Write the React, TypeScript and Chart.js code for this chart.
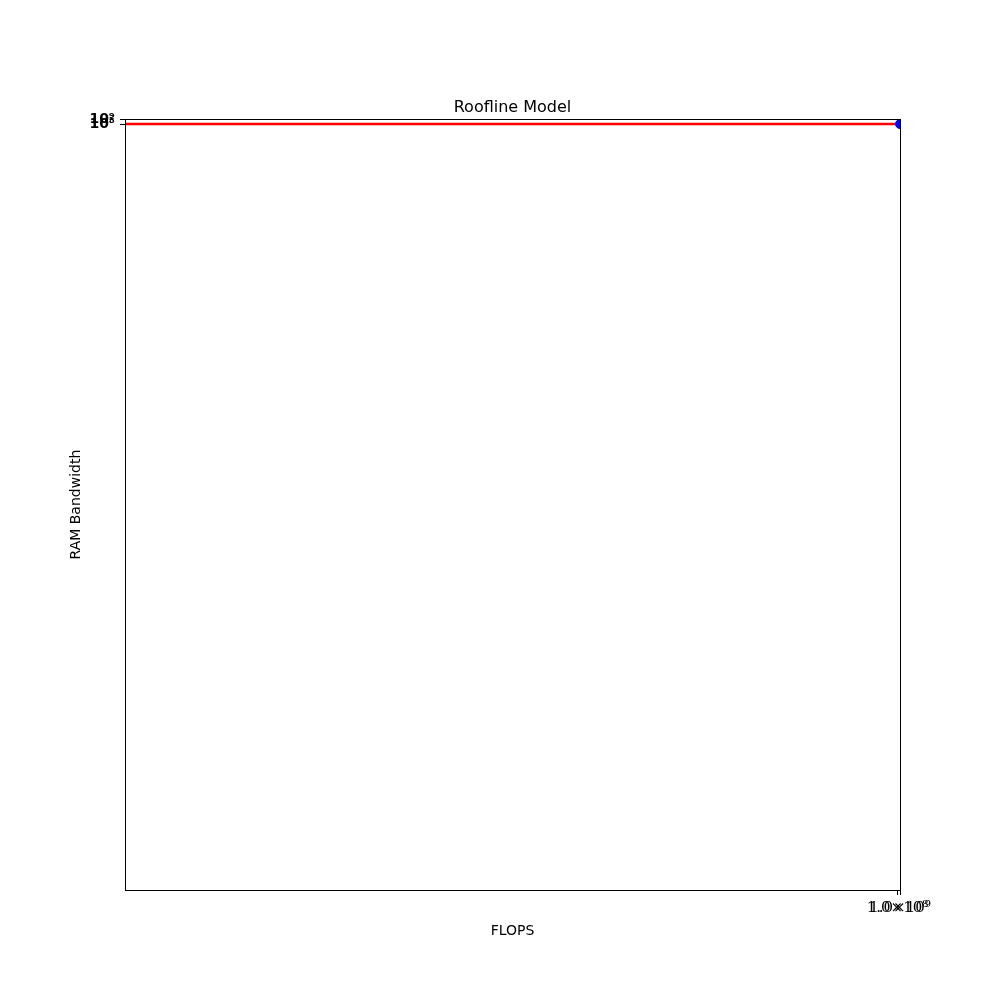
import React, { useEffect, useRef } from "react";
import { Chart, registerables } from "chart.js";

Chart.register(...registerables);

// ---- data ----
const ROOF_FLOPS = [1e-300, 1e9];
const ROOF_BANDWIDTH = [1e8, 1e8];
const POINT_FLOPS = [1e9];
const POINT_BANDWIDTH = [1e8];
const X_TICKS = [1e8, 1e9];
const X_TICK_LABELS = ["1.0×10⁸", "1.0×10⁹"];
const Y_TICKS = [1e8, 1e9];
const Y_TICK_LABELS = ["10⁸", "10⁹"];
const X_LIMITS = [1e-300, 1e9];
const Y_LIMITS = [1e-150, 1e9];

const FONT = "'DejaVu Sans', sans-serif";
const SERIF = "'DejaVu Serif', serif";

const framePlugin = {
  id: "frame",
  afterDatasetsDraw(chart: any) {
    const { ctx, chartArea } = chart;
    ctx.save();
    ctx.strokeStyle = "#000";
    ctx.lineWidth = 1;
    ctx.strokeRect(
      Math.round(chartArea.left) + 0.5,
      Math.round(chartArea.top) + 0.5,
      Math.round(chartArea.right - chartArea.left),
      Math.round(chartArea.bottom - chartArea.top)
    );
    ctx.restore();
  },
};

export default function App() {
  const ref = useRef<HTMLCanvasElement | null>(null);

  useEffect(() => {
    if (!ref.current) return;
    const chart = new Chart(ref.current, {
      type: "scatter",
      data: {
        datasets: [
          {
            type: "scatter",
            label: "point",
            data: POINT_FLOPS.map((x, i) => ({ x, y: POINT_BANDWIDTH[i] })),
            backgroundColor: "#0000ff",
            borderColor: "#0000ff",
            pointRadius: 4.5,
            pointHoverRadius: 4.5,
            order: 0,
            clip: 0,
          } as any,
          {
            type: "line",
            label: "roof",
            data: ROOF_FLOPS.map((x, i) => ({ x, y: ROOF_BANDWIDTH[i] })),
            borderColor: "#ff0000",
            backgroundColor: "#ff0000",
            borderWidth: 2.6,
            pointRadius: 0,
            showLine: true,
            fill: false,
            order: 1,
            clip: 0,
          } as any,
        ],
      },
      options: {
        animation: false,
        responsive: false,
        events: [],
        layout: { padding: { left: 0, right: 100, top: 0, bottom: 0 } },
        plugins: {
          legend: { display: false },
          tooltip: { enabled: false },
          title: {
            display: true,
            text: "Roofline Model",
            color: "#000",
            fullSize: false,
            font: { family: FONT, size: 16, weight: "normal" },
            padding: { top: 98, bottom: 2 },
          },
        },
        scales: {
          x: {
            type: "logarithmic",
            min: X_LIMITS[0],
            max: X_LIMITS[1],
            border: { display: false },
            grid: {
              display: true,
              drawOnChartArea: false,
              drawTicks: true,
              tickLength: 5,
              color: "#000",
              tickColor: "#000",
            },
            ticks: {
              autoSkip: false,
              maxRotation: 0,
              minRotation: 0,
              padding: 4,
              color: "#000",
              font: { family: SERIF, size: 15 },
              callback: (v: any) => {
                const i = X_TICKS.findIndex((t) => Math.abs(t - v) / t < 1e-6);
                return i >= 0 ? X_TICK_LABELS[i] : "";
              },
            },
            title: {
              display: true,
              text: "FLOPS",
              color: "#000",
              font: { family: FONT, size: 14 },
              padding: { top: 0, bottom: 60 },
            },
            afterBuildTicks: (scale: any) => {
              scale.ticks = X_TICKS.map((value) => ({ value }));
            },
            afterFit: (scale: any) => {
              scale.height = 110;
            },
          },
          y: {
            type: "logarithmic",
            min: Y_LIMITS[0],
            max: Y_LIMITS[1],
            border: { display: false },
            grid: {
              display: true,
              drawOnChartArea: false,
              drawTicks: true,
              tickLength: 5,
              color: "#000",
              tickColor: "#000",
            },
            ticks: {
              autoSkip: false,
              padding: 5,
              color: "#000",
              font: { family: FONT, size: 14, weight: "bold" },
              callback: (v: any) => {
                const i = Y_TICKS.findIndex((t) => Math.abs(t - v) / t < 1e-6);
                return i >= 0 ? Y_TICK_LABELS[i] : "";
              },
            },
            title: {
              display: true,
              text: "RAM Bandwidth",
              color: "#000",
              font: { family: FONT, size: 14 },
              padding: { top: 68, bottom: 0 },
            },
            afterBuildTicks: (scale: any) => {
              scale.ticks = Y_TICKS.map((value) => ({ value }));
            },
            afterFit: (scale: any) => {
              scale.width = 125;
            },
          },
        },
      } as any,
      plugins: [framePlugin],
    });
    return () => chart.destroy();
  }, []);

  return (
    <div style={{ position: "absolute", left: 0, top: 0, width: 1000, height: 1000, background: "#fff" }}>
      <canvas ref={ref} width={1000} height={1000} style={{ width: 1000, height: 1000 }} />
    </div>
  );
}
